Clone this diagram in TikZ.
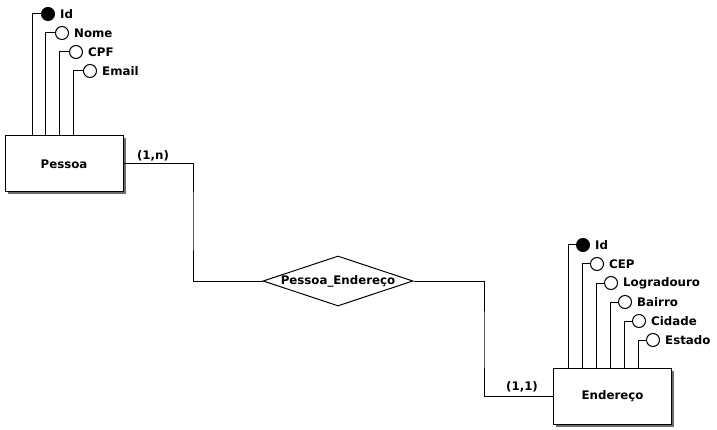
\documentclass[tikz,border=0pt]{standalone}
\usepackage{fontspec}
\setmainfont{DejaVu Sans}
\usetikzlibrary{shapes.geometric,shadows}
\tikzset{
  entidade/.style={draw, fill=white, line width=1pt, minimum width=118pt, minimum height=56pt,
    drop shadow={shadow xshift=2.5pt, shadow yshift=-2.5pt, fill=gray!85!black, opacity=1}},
  relacao/.style={draw, diamond, aspect=3, fill=white, line width=1pt, inner sep=0pt,
    minimum width=150pt, minimum height=50pt},
  atrib/.style={draw, circle, fill=white, line width=1pt, inner sep=0pt, minimum size=13pt,
    label={[font=\rotulo, inner sep=1pt, label distance=4pt]right:#1}},
  chave/.style={atrib=#1, fill=black},
  liga/.style={line width=1pt}
}
\newcommand{\rotulo}{\fontsize{11.8}{14}\selectfont\bfseries}
\begin{document}
\begin{tikzpicture}[x=1pt, y=-1pt, font=\rotulo]
\useasboundingbox (0,0) rectangle (717,430);
% entidades e relacionamento
\node[entidade] (pessoa) at (64,164) {Pessoa};
\node[entidade] (endereco) at (612.5,396) {Endereço};
\node[relacao] (pessoaEnd) at (338,281) {Pessoa\_Endereço};
% cardinalidades
\coordinate (dobraA) at (193,220);
\coordinate (dobraB) at (484,340);
\draw[liga] (pessoa.east) -| (dobraA) |- (pessoaEnd.west);
\draw[liga] (pessoaEnd.east) -| (dobraB) |- (endereco.west);
\node (cardA) at (153,156) {(1,n)};
\node (cardB) at (522,387) {(1,1)};
% atributos de Pessoa
\node[chave=Id] (pId) at (48,14) {};
\node[atrib=Nome] (pNome) at (62,33) {};
\node[atrib=CPF] (pCpf) at (76,52) {};
\node[atrib=Email] (pEmail) at (90,71) {};
\draw[liga] (pId.west) -| ([xshift=28pt]pessoa.north west);
\draw[liga] (pNome.west) -| ([xshift=41pt]pessoa.north west);
\draw[liga] (pCpf.west) -| ([xshift=55pt]pessoa.north west);
\draw[liga] (pEmail.west) -| ([xshift=69pt]pessoa.north west);
% atributos de Endereco
\node[chave=Id] (eId) at (583,245) {};
\node[atrib=CEP] (eCep) at (597,264) {};
\node[atrib=Logradouro] (eLogr) at (611,283) {};
\node[atrib=Bairro] (eBairro) at (625,302) {};
\node[atrib=Cidade] (eCidade) at (639,321) {};
\node[atrib=Estado] (eEstado) at (653,340) {};
\draw[liga] (eId.west) -| ([xshift=15pt]endereco.north west);
\draw[liga] (eCep.west) -| ([xshift=29pt]endereco.north west);
\draw[liga] (eLogr.west) -| ([xshift=43pt]endereco.north west);
\draw[liga] (eBairro.west) -| ([xshift=57pt]endereco.north west);
\draw[liga] (eCidade.west) -| ([xshift=71pt]endereco.north west);
\draw[liga] (eEstado.west) -| ([xshift=85pt]endereco.north west);
\end{tikzpicture}
\end{document}
